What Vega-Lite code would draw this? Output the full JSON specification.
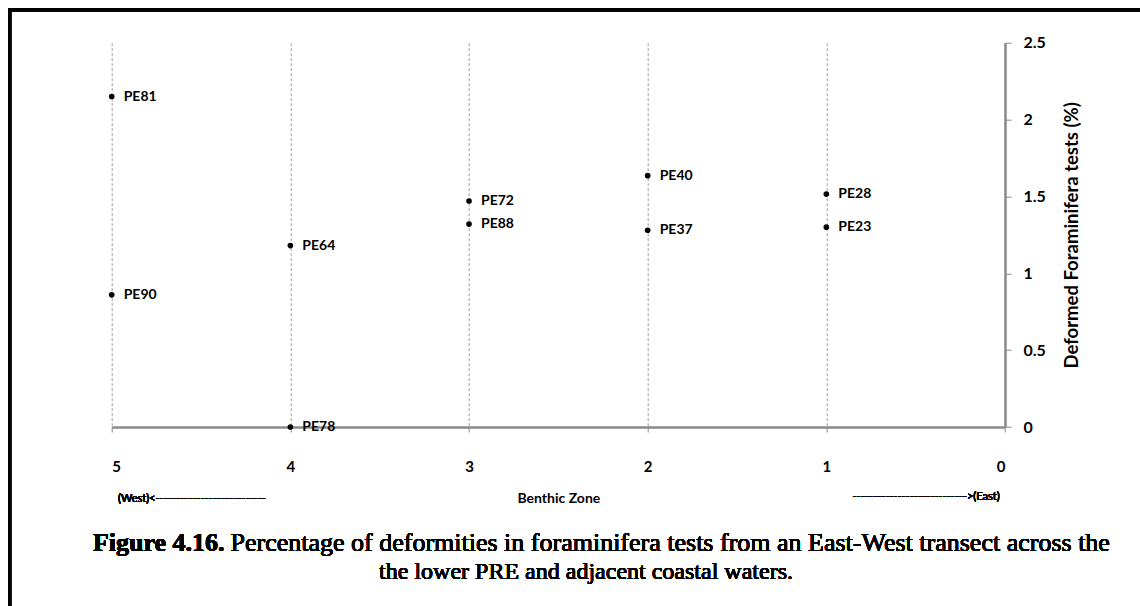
{
  "$schema": "https://vega.github.io/schema/vega-lite/v6.json",
  "width": 893.3,
  "height": 384.3,
  "autosize": {"type": "none"},
  "padding": {"left": 111.7, "top": 42.7, "right": 135, "bottom": 179},
  "background": "white",
  "config": {"view": {"stroke": null}},
  "data": {
    "values": [
      {"zone": 5, "pct": 2.15, "station": "PE81"},
      {"zone": 5, "pct": 0.86, "station": "PE90"},
      {"zone": 4, "pct": 1.18, "station": "PE64"},
      {"zone": 4, "pct": 0.0, "station": "PE78"},
      {"zone": 3, "pct": 1.47, "station": "PE72"},
      {"zone": 3, "pct": 1.32, "station": "PE88"},
      {"zone": 2, "pct": 1.635, "station": "PE40"},
      {"zone": 2, "pct": 1.28, "station": "PE37"},
      {"zone": 1, "pct": 1.515, "station": "PE28"},
      {"zone": 1, "pct": 1.3, "station": "PE23"}
    ]
  },
  "layer": [
    {
      "mark": {"type": "point", "filled": true, "fill": "black", "size": 32, "opacity": 1},
      "encoding": {
        "x": {
          "field": "zone", "type": "quantitative",
          "scale": {"domain": [0, 5], "reverse": true, "nice": false, "zero": false},
          "axis": {
            "values": [5, 4, 3, 2, 1, 0], "format": "d",
            "grid": true, "gridDash": [3, 2], "gridColor": "#a0a0a0", "gridWidth": 1,
            "domainColor": "#8a8a8a", "domainWidth": 2.5,
            "tickColor": "#8a8a8a", "tickSize": 5, "tickWidth": 1,
            "labelFont": "Lato", "labelFontWeight": "bold", "labelFontSize": 15, "labelColor": "black",
            "labelPadding": 27,
            "title": "Benthic Zone", "titleFont": "Lato", "titleFontWeight": "bold", "titleFontSize": 14,
            "titleColor": "black", "titlePadding": 17
          }
        },
        "y": {
          "field": "pct", "type": "quantitative",
          "scale": {"domain": [0, 2.5], "nice": false},
          "axis": {
            "orient": "right",
            "values": [0, 0.5, 1, 1.5, 2, 2.5], "format": "~g",
            "grid": false,
            "domainColor": "#8a8a8a", "domainWidth": 2.5,
            "tickColor": "#8a8a8a", "tickSize": 6, "tickWidth": 1,
            "labelFont": "Lato", "labelFontWeight": "bold", "labelFontSize": 16, "labelColor": "black",
            "labelPadding": 12,
            "title": "Deformed Foraminifera tests (%)", "titleFont": "Lato", "titleFontWeight": "bold",
            "titleFontSize": 18.5, "titleColor": "black", "titleAngle": 270, "titlePadding": 36
          }
        }
      }
    },
    {
      "mark": {"type": "text", "align": "left", "baseline": "middle", "dx": 12, "font": "Lato", "fontWeight": "bold", "fontSize": 14, "fill": "black"},
      "encoding": {
        "x": {"field": "zone", "type": "quantitative"},
        "y": {"field": "pct", "type": "quantitative"},
        "text": {"field": "station"}
      }
    },
    {
      "mark": {"type": "text", "text": "(West)<---------------------------", "align": "left", "baseline": "middle", "font": "Lato", "fontSize": 11, "fill": "black", "clip": false},
      "encoding": {
        "x": {"datum": 4.965, "type": "quantitative"},
        "y": {"datum": -0.468, "type": "quantitative"}
      }
    },
    {
      "mark": {"type": "text", "text": "---------------------------->(East)", "align": "right", "baseline": "middle", "font": "Lato", "fontSize": 11, "fill": "black", "clip": false},
      "encoding": {
        "x": {"datum": 0.03, "type": "quantitative"},
        "y": {"datum": -0.455, "type": "quantitative"}
      }
    },
    {
      "mark": {"type": "text", "text": "Figure 4.16.", "align": "left", "baseline": "alphabetic", "font": "Liberation Serif", "fontWeight": "bold", "fontSize": 26, "fill": "black", "clip": false},
      "encoding": {
        "x": {"datum": 5.105, "type": "quantitative"},
        "y": {"datum": -0.807, "type": "quantitative"}
      }
    },
    {
      "mark": {"type": "text", "text": "Percentage of deformities in foraminifera tests from an East-West transect across the", "align": "left", "baseline": "alphabetic", "font": "Liberation Serif", "fontWeight": "normal", "fontSize": 26, "fill": "black", "clip": false},
      "encoding": {
        "x": {"datum": 4.335, "type": "quantitative"},
        "y": {"datum": -0.807, "type": "quantitative"}
      }
    },
    {
      "mark": {"type": "text", "text": "the lower PRE and adjacent coastal waters.", "align": "center", "baseline": "alphabetic", "font": "Liberation Serif", "fontWeight": "normal", "fontSize": 24, "fill": "black", "clip": false},
      "encoding": {
        "x": {"datum": 2.345, "type": "quantitative"},
        "y": {"datum": -0.989, "type": "quantitative"}
      }
    },
    {
      "mark": {"type": "rect", "fill": "white", "fillOpacity": 0, "stroke": "black", "strokeWidth": 3, "clip": false},
      "encoding": {
        "x": {"datum": 5.571, "type": "quantitative"},
        "x2": {"datum": -0.811},
        "y": {"datum": 2.715, "type": "quantitative"},
        "y2": {"datum": -1.26}
      }
    }
  ]
}
